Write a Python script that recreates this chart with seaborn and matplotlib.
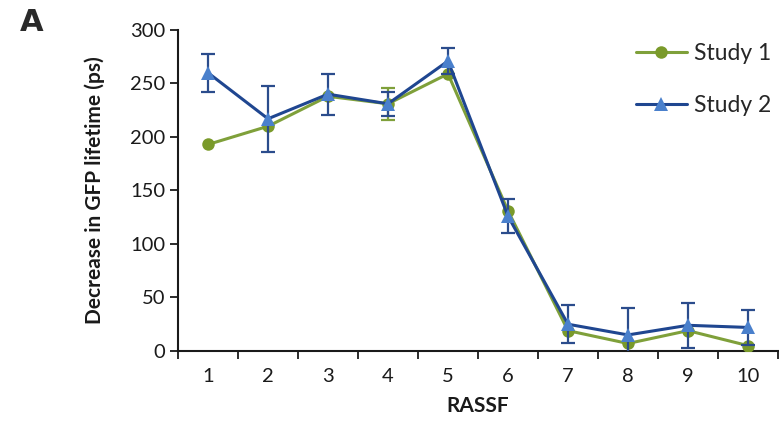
import numpy as np
import pandas as pd
import matplotlib
matplotlib.use("Agg")
import matplotlib.pyplot as plt
import seaborn as sns
from matplotlib.lines import Line2D

# Decrease in GFP lifetime for each RASSF family member
rassf = [1, 2, 3, 4, 5, 6, 7, 8, 9, 10]
study1 = [193, 210, 238, 231, 259, 131, 19, 7, 19, 5]
study1_err = [0, 0, 0, 15, 0, 0, 0, 0, 0, 0]
study2 = [260, 217, 240, 231, 271, 126, 25, 15, 24, 22]
study2_err = [18, 31, 19, 11, 12, 16, 18, 25, 21, 16]
series_names = ["Study 1", "Study 2"]
y_ticks = [0, 50, 100, 150, 200, 250, 300]

df = pd.DataFrame({
    "RASSF": rassf * 2,
    "value": study1 + study2,
    "study": [series_names[0]] * len(rassf) + [series_names[1]] * len(rassf),
})

sns.set_theme(style="white")
plt.rcParams["font.family"] = ["Lato", "DejaVu Sans"]

green_line = "#7FA03A"
green_mark = "#7A9A2A"
blue_line = "#1F4690"
blue_mark = "#4A80CC"
blue_err = "#2B4C8C"

fig = plt.figure(figsize=(7.79, 4.44), dpi=100)
ax = fig.add_axes([0.2285, 0.2095, 0.7702, 0.7230])

# error bars sit under the lines; only non-zero ones are drawn
s1 = [(x, y, e) for x, y, e in zip(rassf, study1, study1_err) if e > 0]
ax.errorbar([p[0] for p in s1], [p[1] for p in s1], yerr=[p[2] for p in s1],
            fmt="none", ecolor=green_line, elinewidth=1.6, capsize=5,
            capthick=1.6, zorder=2)
ax.errorbar(rassf, study2, yerr=study2_err, fmt="none", ecolor=blue_err,
            elinewidth=1.6, capsize=5, capthick=1.6, zorder=4)

sns.lineplot(data=df[df.study == series_names[0]], x="RASSF", y="value",
             color=green_line, marker="o", markersize=9, linewidth=2.2,
             markeredgewidth=0, ax=ax, zorder=3, legend=False)
sns.lineplot(data=df[df.study == series_names[1]], x="RASSF", y="value",
             color=blue_line, marker="^", markersize=10, linewidth=2.2,
             markeredgewidth=0, ax=ax, zorder=5, legend=False)

for ln, mc in zip(ax.lines[-2:], [green_mark, blue_mark]):
    ln.set_markerfacecolor(mc)
    ln.set_markeredgecolor(mc)

ax.set_xlim(0.5, 10.5)
ax.set_ylim(0, 300)
ax.set_yticks(y_ticks)
ax.set_yticklabels([str(v) for v in y_ticks], fontsize=14.5, color="#1a1a1a")

# category labels between boundary ticks
ax.set_xticks(np.arange(0.5, 11, 1.0))
ax.set_xticklabels([])
ax.set_xticks(rassf, minor=True)
ax.set_xticklabels([str(v) for v in rassf], minor=True, fontsize=14.5, color="#1a1a1a")
ax.tick_params(axis="x", which="major", direction="out", length=6, width=1.3,
               color="#1a1a1a", bottom=True)
ax.tick_params(axis="x", which="minor", length=0, pad=12)
ax.tick_params(axis="y", direction="out", length=6, width=1.3, color="#1a1a1a",
               left=True, pad=3)

for side in ["top", "right"]:
    ax.spines[side].set_visible(False)
for side in ["left", "bottom"]:
    ax.spines[side].set_color("#1a1a1a")
    ax.spines[side].set_linewidth(1.5)

ax.set_xlabel("RASSF", fontsize=15, fontweight="bold", labelpad=8, color="#1a1a1a")
ax.set_ylabel("Decrease in GFP lifetime (ps)", fontsize=15, fontweight="bold",
              labelpad=18, color="#1a1a1a")
ax.grid(False)

handles = [
    Line2D([], [], color=green_line, lw=2.2, marker="o", markersize=9,
           markerfacecolor=green_mark, markeredgewidth=0),
    Line2D([], [], color=blue_line, lw=2.2, marker="^", markersize=10,
           markerfacecolor=blue_mark, markeredgewidth=0),
]
fig.legend(handles, series_names, loc="upper left", bbox_to_anchor=(0.802, 0.928),
           frameon=False, fontsize=16.5, handlelength=2.2, handletextpad=0.3,
           labelspacing=1.35, borderpad=0)

fig.text(0.025, 0.95, "A", fontsize=22, fontweight="bold", family="DejaVu Sans",
         color="#2a2a2a", va="center")

fig.savefig("out.png", dpi=100, facecolor="white")
